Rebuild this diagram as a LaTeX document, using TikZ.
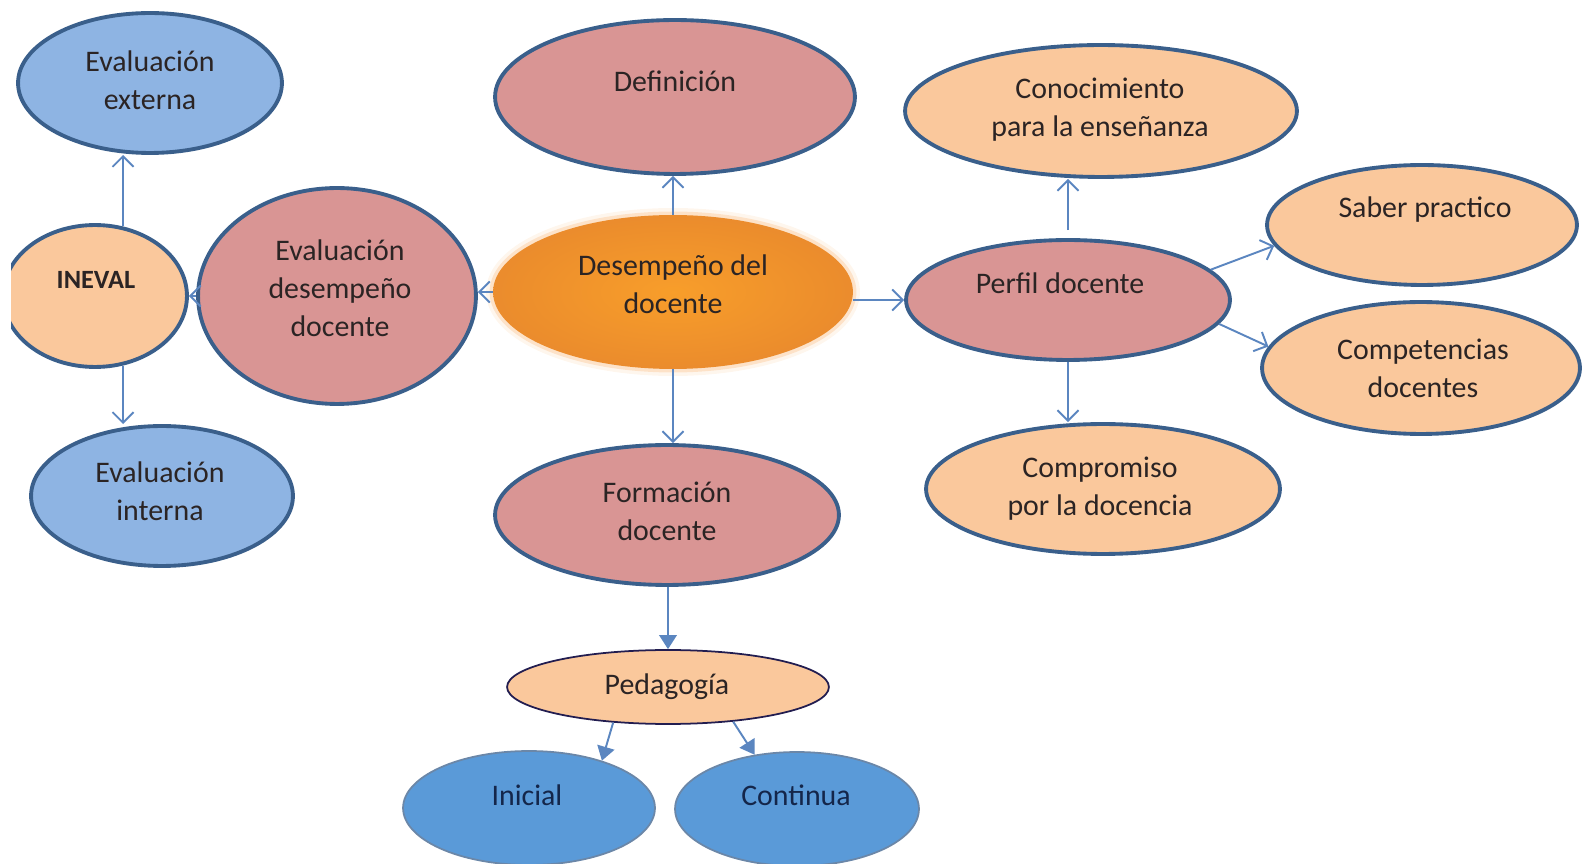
\documentclass[tikz,border=0pt]{standalone}
\usepackage{fontspec}
\setmainfont{Carlito}
\usepackage{tikz}
\usetikzlibrary{shapes.geometric,arrows.meta,positioning,calc}

\definecolor{edgeblue}{HTML}{3A5F8B}
\definecolor{arrowblue}{HTML}{5B86C0}
\definecolor{rosefill}{HTML}{D99594}
\definecolor{peachfill}{HTML}{FAC89C}
\definecolor{skyfill}{HTML}{8EB4E3}
\definecolor{deepsky}{HTML}{5A9AD8}
\definecolor{coreorange}{HTML}{F7932F}
\definecolor{inkdark}{HTML}{2B2424}
\definecolor{inknavy}{HTML}{14264A}

\tikzset{
  bubble/.style={ellipse, draw=edgeblue, line width=2.2pt, inner sep=0pt},
  size/.style 2 args={minimum width=0.04cm*#1, minimum height=0.04cm*#2},
  rosebubble/.style={bubble, fill=rosefill},
  peachbubble/.style={bubble, fill=peachfill},
  skybubble/.style={bubble, fill=skyfill},
  deepbubble/.style={ellipse, draw=edgeblue!75, line width=1pt, fill=deepsky, inner sep=0pt},
  corebubble/.style={ellipse, inner sep=0pt, inner color=coreorange!90!yellow, outer color=coreorange!95!black,
    preaction={draw=coreorange!70!white, line width=8pt, opacity=0.12},
    preaction={draw=coreorange!80!white, line width=4pt, opacity=0.25}},
  txt/.style={align=center, text=inkdark, font=\fontsize{17}{21.6}\selectfont},
  link/.style={draw=arrowblue, line width=1.1pt, -{Straight Barb[length=6pt, width=12pt]}},
  solidlink/.style={draw=arrowblue, line width=1.1pt, -{Triangle[length=8pt, width=10pt]}},
}

\begin{document}
\begin{tikzpicture}[x=0.02cm, y=-0.02cm]
    \useasboundingbox (0,0) rectangle (1583,864);
    \clip (11,0) rectangle (1583,864);

    % Left branch
    \node[skybubble, size={132}{70}] (ext) at (150,83) {};
    \node[txt] (ext-t) at (150,80) {Evaluación\\externa};
    \node[peachbubble, size={92}{71}] (ineval) at (95,296) {};
    \node[txt, font=\bfseries\fontsize{15}{17}\selectfont] (ineval-t) at (96,280) {INEVAL};
    \node[rosebubble, size={139}{108}] (evaldes) at (337,296) {};
    \node[txt] (evaldes-t) at (340,288) {Evaluación\\desempeño\\docente};
    \node[skybubble, size={131}{70}] (interna) at (162,496) {};
    \node[txt] (interna-t) at (160,491) {Evaluación\\interna};

    % Centre column
    \node[corebubble, size={180}{77}] (core) at (673,292) {};
    \node[txt] (core-t) at (673,284) {Desempeño del\\docente};
    \node[rosebubble, size={180}{77}] (defin) at (675,97) {};
    \node[txt] (defin-t) at (675,81) {Definición};
    \node[rosebubble, size={172}{70}] (formac) at (667,515) {};
    \node[txt] (formac-t) at (667,511) {Formación\\docente};
    \node[ellipse, draw=inkdark!80!blue, line width=1pt, fill=peachfill, inner sep=0pt, size={161}{37}] (pedag) at (668,687) {};
    \node[txt] (pedag-t) at (667,687) {Pedagogía};
    \node[deepbubble, size={126}{57}] (inicial) at (529,808) {};
    \node[txt, text=inknavy] (inicial-t) at (527,795) {Inicial};
    \node[deepbubble, size={122}{57}] (continua) at (797,809) {};
    \node[txt, text=inknavy] (continua-t) at (796,795) {Continua};

    % Right branch
    \node[rosebubble, size={162}{60}] (perfil) at (1068,300) {};
    \node[txt] (perfil-t) at (1060,283) {Perfil docente};
    \node[peachbubble, size={196}{66}] (conoc) at (1101,111) {};
    \node[txt] (conoc-t) at (1100,110) {Conocimiento\\para la enseñanza};
    \node[peachbubble, size={155}{60}] (saber) at (1422,225) {};
    \node[txt] (saber-t) at (1425,210) {Saber practico};
    \node[peachbubble, size={159}{66}] (compet) at (1421,368) {};
    \node[txt] (compet-t) at (1423,368) {Competencias\\docentes};
    \node[peachbubble, size={177}{65}] (compro) at (1103,489) {};
    \node[txt] (compro-t) at (1100,489) {Compromiso\\por la docencia};

    % Connectors
    \draw[link] (core.north) -- (core.north |- defin.south);
    \draw[link] (core.south) -- (core.south |- formac.north);
    \draw[link] (core.west) -- (core.west -| evaldes.east);
    \draw[link] (core.east |- perfil.west) -- (perfil.west);
    \draw[link] (evaldes.west) -- (ineval.east);
    \draw[link] (ineval.68) -- (ineval.68 |- ext.south);
    \draw[link] (ineval.-68) -- (ineval.-68 |- interna.north);
    \draw[link, shorten <=8pt*0.57] (perfil.north) -- (perfil.north |- conoc.south);
    \draw[link] (perfil.south) -- (perfil.south |- compro.north);
    \draw[link] (perfil.12) -- (saber.188);
    \draw[link] (perfil.-9) -- (compet.172);
    \draw[solidlink] (pedag.north |- formac.south) -- (pedag.north);
    \draw[solidlink] (pedag.-147) -- (inicial.33);
    \draw[solidlink] (pedag.-28) -- (continua.128);
\end{tikzpicture}
\end{document}
